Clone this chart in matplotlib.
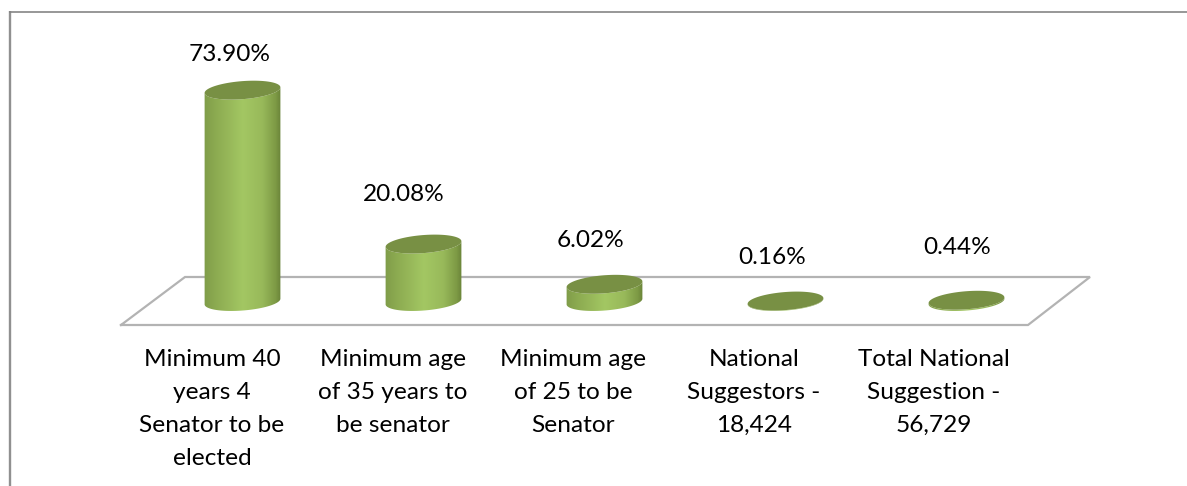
import numpy as np
import matplotlib
matplotlib.use("Agg")
import matplotlib.pyplot as plt
from matplotlib.colors import LinearSegmentedColormap
from matplotlib.patches import Polygon

categories = ["Minimum 40\nyears 4\nSenator to be\nelected",
              "Minimum age\nof 35 years to\nbe senator",
              "Minimum age\nof 25 to be\nSenator",
              "National\nSuggestors -\n18,424",
              "Total National\nSuggestion -\n56,729"]
values = [73.90, 20.08, 6.02, 0.16, 0.44]
value_labels = ["73.90%", "20.08%", "6.02%", "0.16%", "0.44%"]

W, H = 1187, 486
SX, SY = 181.0, 2.86       # pixels per category / per percent
X0, Y0 = 242.5, 301.5      # pixel position of first category, zero line

def px_x(p): return (np.asarray(p, float) - X0) / SX
def px_y(p): return (Y0 - np.asarray(p, float)) / SY

fig = plt.figure(figsize=(W / 100, H / 100), dpi=100, facecolor="white")
ax = fig.add_axes([0, 0, 1, 1])
ax.axis("off")

FONT = "Lato"
FS = 17.6
GREY = "#858585"

# chart border
ax.plot(px_x([10, 10]), px_y([H, 11]), color="#909090", lw=1.7, solid_capstyle="butt")
ax.plot(px_x([9, W]), px_y([11.6, 11.6]), color=GREY, lw=1.2, solid_capstyle="butt")

# floor
ax.plot(px_x([121, 185, 1090, 1028, 121]), px_y([325, 277, 277, 325, 325]),
        color="#b3b3b3", lw=1.6, solid_joinstyle="miter")

cmap = LinearSegmentedColormap.from_list("cyl", [
    (0.0, "#7f9c49"), (0.12, "#8aa84f"), (0.5, "#a3c763"),
    (0.75, "#98b95a"), (0.92, "#7d9a45"), (1.0, "#667f36")])

A, B, TILT = 38.0, 9.0, np.deg2rad(4.5)
t = np.linspace(0, 2 * np.pi, 181)[:-1]
ex = A * np.cos(t) * np.cos(TILT) + B * np.sin(t) * np.sin(TILT)
ey = -A * np.cos(t) * np.sin(TILT) + B * np.sin(t) * np.cos(TILT)   # pixels, y down

for i, v in enumerate(values):
    h = v * SY
    cx = X0 + i * SX
    bx, by = cx + ex, Y0 + ey
    tx, ty = cx + ex, Y0 - h + ey
    # swept outline: lower arc of the base, then upper part via the top ellipse
    right, left = int(np.argmax(ex)), int(np.argmin(ex))
    idx = np.arange(right, left + 1) if right < left else np.r_[right:len(t), 0:left + 1]
    ox = np.r_[bx[idx], tx[idx[::-1]]]
    oy = np.r_[by[idx], ty[idx[::-1]]]
    body = Polygon(np.c_[px_x(ox), px_y(oy)], closed=True, facecolor="none", edgecolor="none")
    ax.add_patch(body)
    grad = np.linspace(0, 1, 256).reshape(1, -1)
    im = ax.imshow(grad, cmap=cmap, aspect="auto", zorder=2,
                   extent=[px_x(cx - 39), px_x(cx + 39), px_y(Y0 + 12), px_y(Y0 - h - 12)])
    im.set_clip_path(body)
    ax.add_patch(Polygon(np.c_[px_x(tx), px_y(ty)], closed=True, facecolor="#789044",
                         edgecolor="none", zorder=3))

ax.set_xlim(px_x(0), px_x(W))
ax.set_ylim(px_y(H), px_y(0))

LABEL_X = [230, 404, 590, 772, 957]
LABEL_Y = [55, 194.5, 240.5, 257.5, 247.5]
for s, lx, ly in zip(value_labels, LABEL_X, LABEL_Y):
    ax.text(px_x(lx), px_y(ly), s, ha="center", va="center",
            fontsize=FS, family=FONT, color="black", zorder=4)

CAT_X = [212, 393, 573, 754, 934]
for c, lx in zip(categories, CAT_X):
    ax.text(px_x(lx), px_y(349), c, ha="center", va="top", fontsize=FS, family=FONT,
            color="black", linespacing=1.7, zorder=4)

fig.savefig("out.png", dpi=100, facecolor="white")
